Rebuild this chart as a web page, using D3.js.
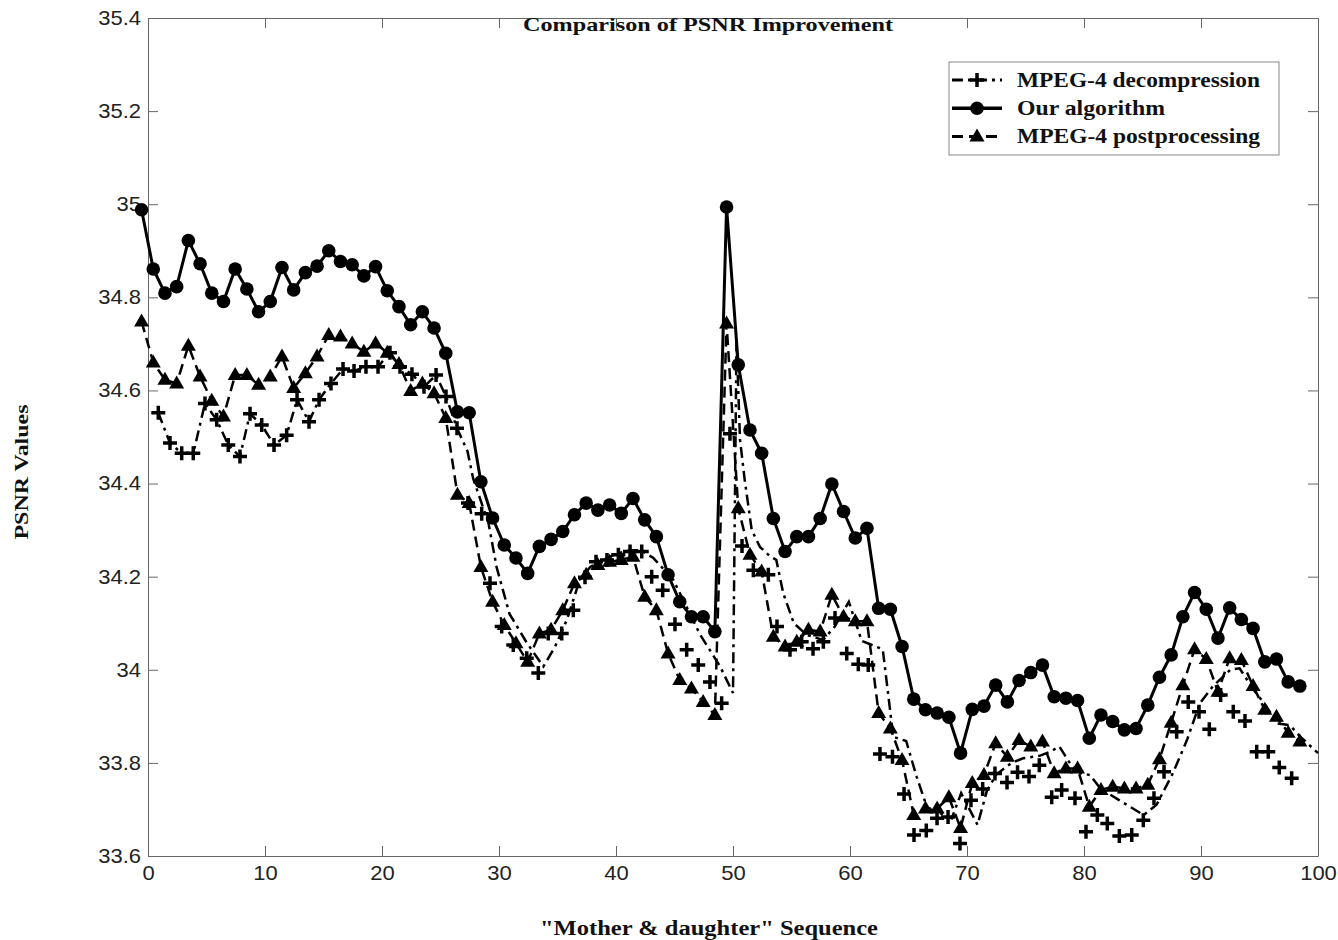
<!DOCTYPE html>
<html>
<head>
<meta charset="utf-8">
<script src="https://cdn.jsdelivr.net/npm/d3@7"></script>
<style>
body { margin: 0; background: #fff; }
svg { display: block; }
.tick text { font-family: "Liberation Sans", Arial, sans-serif; font-size: 20px; fill: #222; }
.serif { font-family: "Liberation Serif", "Times New Roman", serif; font-weight: bold; fill: #111; }
</style>
</head>
<body>
<div id="chart"></div>
<script>
const xTicks = [0, 10, 20, 30, 40, 50, 60, 70, 80, 90, 100]
const yTicks = [33.6, 33.8, 34, 34.2, 34.4, 34.6, 34.8, 35, 35.2, 35.4]
const yTickLabels = ["33.6", "33.8", "34", "34.2", "34.4", "34.6", "34.8", "35", "35.2", "35.4"]

const seriesNames = ["MPEG-4 decompression", "Our algorithm", "MPEG-4 postprocessing"]

// "Our algorithm" (circles), one value per frame
const ourPsnr = [
    34.988, 34.861, 34.809, 34.823, 34.922, 34.872, 34.809, 34.791, 34.861, 34.818,
    34.769, 34.791, 34.864, 34.816, 34.853, 34.867, 34.900, 34.877, 34.870, 34.846,
    34.866, 34.814, 34.780, 34.741, 34.769, 34.734, 34.680, 34.554, 34.552, 34.404,
    34.326, 34.268, 34.240, 34.207, 34.265, 34.280, 34.297, 34.333, 34.358, 34.343,
    34.354, 34.336, 34.368, 34.322, 34.286, 34.204, 34.146, 34.114, 34.114, 34.082,
    34.994, 34.655, 34.515, 34.465, 34.325, 34.254, 34.286, 34.286, 34.325, 34.399,
    34.340, 34.283, 34.304, 34.132, 34.130, 34.050, 33.937, 33.914, 33.907, 33.898,
    33.821, 33.915, 33.922, 33.967, 33.931, 33.977, 33.994, 34.010, 33.942, 33.939,
    33.934, 33.853, 33.903, 33.889, 33.871, 33.874, 33.924, 33.984, 34.032, 34.114,
    34.166, 34.130, 34.068, 34.133, 34.108, 34.089, 34.017, 34.023, 33.974, 33.965
]

// "MPEG-4 postprocessing" (triangles), one value per frame
const postPsnr = [
    34.748, 34.660, 34.623, 34.615, 34.696, 34.630, 34.578, 34.544, 34.633, 34.633,
    34.612, 34.630, 34.673, 34.605, 34.637, 34.673, 34.719, 34.716, 34.701, 34.683,
    34.701, 34.681, 34.657, 34.599, 34.615, 34.594, 34.541, 34.376, 34.358, 34.221,
    34.146, 34.096, 34.057, 34.017, 34.078, 34.086, 34.128, 34.186, 34.204, 34.225,
    34.232, 34.236, 34.243, 34.157, 34.128, 34.035, 33.978, 33.960, 33.931, 33.903,
    34.744, 34.347, 34.247, 34.211, 34.071, 34.050, 34.060, 34.086, 34.082, 34.161,
    34.114, 34.104, 34.104, 33.907, 33.874, 33.806, 33.688, 33.702, 33.702, 33.726,
    33.660, 33.757, 33.774, 33.842, 33.813, 33.849, 33.835, 33.846, 33.778, 33.788,
    33.788, 33.706, 33.742, 33.749, 33.745, 33.745, 33.753, 33.808, 33.886, 33.967,
    34.044, 34.023, 33.953, 34.025, 34.021, 33.965, 33.914, 33.899, 33.865, 33.846
]

// "MPEG-4 decompression" plus markers: frame position and value as read
const decompFrames = [
    0.88, 1.88, 2.88, 3.87, 4.87, 5.87, 6.86, 7.86, 8.72, 9.72,
    10.77, 11.85, 12.74, 13.76, 14.62, 15.64, 16.67, 17.61, 18.63, 19.66,
    20.68, 21.54, 22.56, 23.59, 24.62, 25.47, 26.41, 27.35, 28.52, 29.23,
    30.23, 31.22, 32.37, 33.36, 34.21, 35.36, 36.35, 37.35, 38.29, 39.23,
    40.2, 41.2, 42.2, 43.05, 43.99, 45.04, 46.04, 47.03, 48.03, 49.03,
    49.74, 50.77, 51.74, 53.02, 53.76, 54.87, 55.87, 56.84, 57.72, 58.72,
    59.72, 60.71, 61.56, 62.56, 63.63, 64.62, 65.47, 66.52, 67.44, 68.38,
    69.4, 70.34, 71.34, 72.39, 73.42, 74.32, 75.3, 76.18, 77.24, 78.09,
    79.23, 80.17, 81.14, 81.99, 83.02, 84.08, 85.07, 85.98, 86.84, 87.92,
    88.91, 89.83, 90.71, 91.68, 92.76, 93.76, 94.76, 95.75, 96.69, 97.75
]
const decompPsnr = [
    34.552, 34.487, 34.465, 34.465, 34.572, 34.537, 34.483, 34.458, 34.550, 34.526,
    34.483, 34.504, 34.580, 34.533, 34.580, 34.615, 34.646, 34.642, 34.651, 34.651,
    34.681, 34.651, 34.635, 34.608, 34.633, 34.587, 34.519, 34.358, 34.335, 34.186,
    34.093, 34.053, 34.025, 33.993, 34.078, 34.078, 34.128, 34.199, 34.232, 34.236,
    34.247, 34.254, 34.254, 34.200, 34.171, 34.098, 34.043, 34.010, 33.974, 33.928,
    34.507, 34.266, 34.214, 34.204, 34.093, 34.043, 34.060, 34.045, 34.060, 34.111,
    34.035, 34.012, 34.010, 33.819, 33.813, 33.733, 33.645, 33.655, 33.681, 33.684,
    33.627, 33.720, 33.744, 33.777, 33.758, 33.780, 33.771, 33.795, 33.726, 33.742,
    33.724, 33.652, 33.688, 33.670, 33.643, 33.645, 33.677, 33.724, 33.781, 33.867,
    33.931, 33.910, 33.872, 33.946, 33.910, 33.890, 33.824, 33.824, 33.790, 33.767
]

// the dash-dot curve leaves the plus markers after frame 27: its own vertices
const decompLineFrames = [
    27.3, 27.8, 29.1, 29.8, 30.9, 32.4, 33.8, 34.8, 35.8, 36.9,
    37.8, 38.9, 40.1, 41.2, 42.1, 43.2, 44.9, 47.2, 48.9, 50.0,
    50.3, 50.6, 51.0, 51.6, 52.3, 53.2, 53.7, 54.3, 55.2, 56.3,
    57.7, 58.7, 59.9, 61.0, 62.8, 63.7, 64.8, 65.7, 66.6, 67.7,
    68.7, 69.5, 70.9, 71.7, 72.5, 73.8, 74.8, 76.2, 77.1, 77.9,
    78.8, 79.7, 80.5, 81.4, 83.0, 85.1, 86.2, 87.6, 88.8, 89.9,
    91.0, 92.5, 93.3, 94.5, 95.6, 96.5, 97.6, 98.5, 100
]
const decompLinePsnr = [
    34.47, 34.41, 34.315, 34.22, 34.12, 34.057, 34.007, 34.05, 34.107, 34.193,
    34.221, 34.236, 34.25, 34.257, 34.257, 34.24, 34.193, 34.075, 34.007, 33.95,
    34.71, 34.494, 34.408, 34.30, 34.264, 34.243, 34.236, 34.164, 34.10, 34.075,
    34.064, 34.093, 34.146, 34.062, 34.044, 33.856, 33.847, 33.77, 33.703, 33.692,
    33.681, 33.735, 33.667, 33.74, 33.775, 33.80, 33.81, 33.815, 33.824, 33.835,
    33.799, 33.778, 33.774, 33.745, 33.72, 33.688, 33.71, 33.778, 33.849, 33.928,
    33.964, 34.0, 34.003, 33.957, 33.921, 33.885, 33.881, 33.856, 33.821
]

const width = 1338,
    height = 940
const margin = { left: 148, right: 20, top: 18, bottom: 84 }
const markerShift = -0.55   // circles/triangles sit a bit left of the frame ticks

const svg = d3.select("#chart").append("svg")
    .attr("width", width)
    .attr("height", height)

const x = d3.scaleLinear().domain([0, 100]).range([margin.left, width - margin.right])
const y = d3.scaleLinear().domain([33.6, 35.4]).range([height - margin.bottom, margin.top])

// axes, box on, ticks pointing inward
const axisColor = "#666"
svg.append("g")
    .attr("color", axisColor)
    .attr("transform", `translate(0,${y.range()[0]})`)
    .call(d3.axisBottom(x).tickValues(xTicks).tickSizeInner(-10).tickSizeOuter(0).tickPadding(10))
svg.append("g")
    .attr("color", axisColor)
    .attr("transform", `translate(${x.range()[0]},0)`)
    .call(d3.axisLeft(y).tickValues(yTicks).tickFormat((d, i) => yTickLabels[i])
        .tickSizeInner(-10).tickSizeOuter(0).tickPadding(7))
svg.append("g")
    .attr("color", axisColor)
    .attr("transform", `translate(0,${y.range()[1]})`)
    .call(d3.axisTop(x).tickValues(xTicks).tickSizeInner(-10).tickSizeOuter(0).tickFormat(""))
svg.append("g")
    .attr("color", axisColor)
    .attr("transform", `translate(${x.range()[1]},0)`)
    .call(d3.axisRight(y).tickValues(yTicks).tickSizeInner(-10).tickSizeOuter(0).tickFormat(""))

svg.selectAll(".tick text").attr("transform", "scale(1.1,1)")
    .each(function () {
        // keep each label anchored where d3 put it after the stretch
        const t = d3.select(this)
        const px = +t.attr("x") || 0
        t.attr("x", px / 1.1)
    })

// data tables
const ourData = ourPsnr.map((v, i) => ({ f: i + markerShift, v }))
const postData = postPsnr.map((v, i) => ({ f: i + markerShift, v }))
const decompData = decompPsnr.map((v, i) => ({ f: decompFrames[i], v }))
const decompLine = decompData.slice(0, 27)
    .concat(decompLinePsnr.map((v, i) => ({ f: decompLineFrames[i], v })))

const line = d3.line().x(d => x(d.f)).y(d => y(d.v))

const plusPath = "M-7,0H7M0,-7V7"
const triPath = "M0,-8L7.5,5L-7.5,5Z"

const styles = {
    decomp: { dash: "11,5,3,5", width: 2.5 },
    ours: { dash: null, width: 3 },
    post: { dash: "11,6", width: 2.5 }
}

// decompression: dash-dot curve + plus markers
svg.append("path")
    .datum(decompLine)
    .attr("d", line)
    .attr("fill", "none")
    .attr("stroke", "#000")
    .attr("stroke-width", styles.decomp.width)
    .attr("stroke-dasharray", styles.decomp.dash)

// postprocessing: dashed + triangles
svg.append("path")
    .datum(postData)
    .attr("d", line)
    .attr("fill", "none")
    .attr("stroke", "#000")
    .attr("stroke-width", styles.post.width)
    .attr("stroke-dasharray", styles.post.dash)

svg.append("g").selectAll("path")
    .data(decompData)
    .enter()
    .append("path")
    .attr("d", plusPath)
    .attr("transform", d => `translate(${x(d.f)},${y(d.v)})`)
    .attr("stroke", "#000")
    .attr("stroke-width", 3.5)

svg.append("g").selectAll("path")
    .data(postData)
    .enter()
    .append("path")
    .attr("d", triPath)
    .attr("transform", d => `translate(${x(d.f)},${y(d.v)})`)
    .attr("fill", "#000")

// our algorithm: solid + circles
svg.append("path")
    .datum(ourData)
    .attr("d", line)
    .attr("fill", "none")
    .attr("stroke", "#000")
    .attr("stroke-width", styles.ours.width)

svg.append("g").selectAll("circle")
    .data(ourData)
    .enter()
    .append("circle")
    .attr("cx", d => x(d.f))
    .attr("cy", d => y(d.v))
    .attr("r", 6.8)
    .attr("fill", "#000")

// titles
svg.append("text")
    .attr("class", "serif")
    .attr("x", 708).attr("y", 31)
    .attr("text-anchor", "middle")
    .attr("font-size", 19)
    .attr("textLength", 370).attr("lengthAdjust", "spacingAndGlyphs")
    .text("Comparison of PSNR Improvement")

svg.append("text")
    .attr("class", "serif")
    .attr("x", 709).attr("y", 935)
    .attr("text-anchor", "middle")
    .attr("font-size", 20)
    .attr("textLength", 338).attr("lengthAdjust", "spacingAndGlyphs")
    .text("\"Mother & daughter\" Sequence")

svg.append("text")
    .attr("class", "serif")
    .attr("transform", "translate(28,472) rotate(-90)")
    .attr("text-anchor", "middle")
    .attr("font-size", 19)
    .attr("textLength", 135).attr("lengthAdjust", "spacingAndGlyphs")
    .text("PSNR Values")

// legend
const legend = svg.append("g")
legend.append("rect")
    .attr("x", 949).attr("y", 62)
    .attr("width", 330).attr("height", 93)
    .attr("fill", "#fff")
    .attr("stroke", "#888")

const legendRows = [
    { name: seriesNames[0], style: styles.decomp, marker: "plus", len: 243 },
    { name: seriesNames[1], style: styles.ours, marker: "circle", len: 148 },
    { name: seriesNames[2], style: styles.post, marker: "tri", len: 243 }
]
legendRows.forEach((r, i) => {
    const cy = 80 + i * 28.3
    legend.append("line")
        .attr("x1", 952).attr("x2", 1002)
        .attr("y1", cy).attr("y2", cy)
        .attr("stroke", "#000")
        .attr("stroke-width", r.style.width + 0.5)
        .attr("stroke-dasharray", r.style.dash)
    if (r.marker === "plus") {
        legend.append("path").attr("d", plusPath)
            .attr("transform", `translate(977,${cy})`)
            .attr("stroke", "#000").attr("stroke-width", 3.5)
    } else if (r.marker === "circle") {
        legend.append("circle").attr("cx", 977).attr("cy", cy).attr("r", 6.8).attr("fill", "#000")
    } else {
        legend.append("path").attr("d", triPath)
            .attr("transform", `translate(977,${cy})`).attr("fill", "#000")
    }
    legend.append("text")
        .attr("class", "serif")
        .attr("x", 1017).attr("y", cy + 6.5)
        .attr("font-size", 20)
        .attr("textLength", r.len).attr("lengthAdjust", "spacingAndGlyphs")
        .text(r.name)
})
</script>
</body>
</html>
